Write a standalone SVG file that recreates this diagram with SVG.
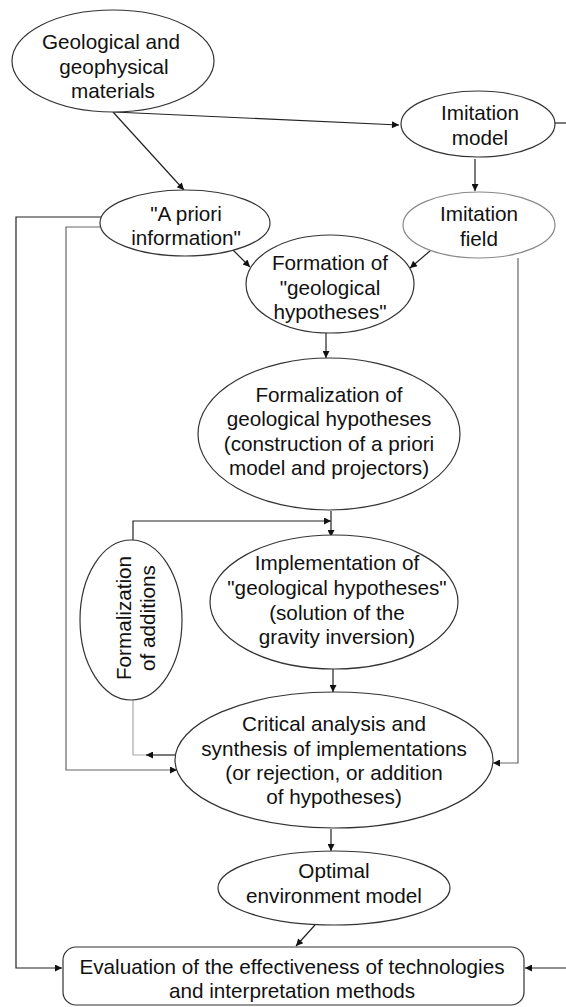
<svg xmlns="http://www.w3.org/2000/svg" width="566" height="1007" viewBox="0 0 566 1007">
<defs>
<marker id="ah" viewBox="0 0 10 10" refX="10" refY="5" markerWidth="9" markerHeight="7" markerUnits="userSpaceOnUse" orient="auto">
<path d="M0,0 L10,5 L0,10 z" fill="#111"/>
</marker>
<style>
.n{fill:#fff;stroke:#333;stroke-width:1.2}
.lt{stroke:#888}
.t{font-family:"Liberation Sans",Arial,sans-serif;font-size:20.7px;fill:#111;text-anchor:middle}
.c{fill:none;stroke:#222;stroke-width:1.2}
.g{stroke:#666}
.lg{stroke:#aaa}
</style>
</defs>
<rect width="566" height="1007" fill="#fff"/>
<g id="connectors">
<path class="c" d="M114,112 L399,125" marker-end="url(#ah)"/>
<path class="c" d="M113,112 L184,190" marker-end="url(#ah)"/>
<path class="c" d="M548,123 L566,123"/>
<path class="c" d="M475,159 L475,191" marker-end="url(#ah)"/>
<path class="c" d="M101,217 L16,217 L16,968 L62,968" marker-end="url(#ah)"/>
<path class="c g" d="M103,227 L66,227 L66,770 L177,770" marker-end="url(#ah)"/>
<path class="c" d="M232,249 L250,267" marker-end="url(#ah)"/>
<path class="c" d="M437,245 L410,268" marker-end="url(#ah)"/>
<path class="c" d="M326,333 L326,358" marker-end="url(#ah)"/>
<path class="c g" d="M518,258 L518,763 L493,763" marker-end="url(#ah)"/>
<path class="c" d="M133,540 L133,521 L331,521" marker-end="url(#ah)"/>
<path class="c" d="M331,511 L331,537" marker-end="url(#ah)"/>
<path class="c" d="M333,668 L333,692" marker-end="url(#ah)"/>
<path class="c" d="M178,755 L146,755" marker-end="url(#ah)"/>
<path class="c lg" d="M146,755 L133,755 L133,700"/>
<path class="c" d="M331,829 L331,851" marker-end="url(#ah)"/>
<path class="c" d="M315,925 L296,946" marker-end="url(#ah)"/>
<path class="c" d="M566,968 L525,968" marker-end="url(#ah)"/>
</g>
<g id="geo-materials">
<ellipse class="n" cx="113" cy="61" rx="101" ry="51"/>
<text class="t" x="111" y="49">Geological and</text>
<text class="t" x="114" y="74">geophysical</text>
<text class="t" x="113" y="98">materials</text>
</g>
<g id="imitation-model">
<ellipse class="n" cx="478" cy="124" rx="77" ry="33"/>
<text class="t" x="480" y="120">Imitation</text>
<text class="t" x="480" y="145">model</text>
</g>
<g id="imitation-field">
<ellipse class="n lt" cx="479" cy="225" rx="76" ry="33"/>
<text class="t" x="479" y="221">Imitation</text>
<text class="t" x="479" y="246">field</text>
</g>
<g id="a-priori">
<ellipse class="n" cx="185" cy="223" rx="85" ry="33"/>
<text class="t" x="186" y="221">"A priori</text>
<text class="t" x="186" y="245">information"</text>
</g>
<g id="formation">
<ellipse class="n" cx="330" cy="284" rx="84" ry="49"/>
<text class="t" x="330" y="270">Formation of</text>
<text class="t" x="330" y="295">"geological</text>
<text class="t" x="330" y="319">hypotheses"</text>
</g>
<g id="formalization">
<ellipse class="n" cx="329" cy="434" rx="131" ry="76"/>
<text class="t" x="329" y="402">Formalization of</text>
<text class="t" x="329" y="426">geological hypotheses</text>
<text class="t" x="329" y="451">(construction of a priori</text>
<text class="t" x="329" y="475">model and projectors)</text>
</g>
<g id="formalization-additions">
<ellipse class="n" cx="131" cy="620" rx="51" ry="80"/>
<text class="t" transform="translate(131,618) rotate(-90)">Formalization</text>
<text class="t" transform="translate(155,618) rotate(-90)">of additions</text>
</g>
<g id="implementation">
<ellipse class="n" cx="334" cy="602" rx="124" ry="67"/>
<text class="t" x="337" y="570">Implementation of</text>
<text class="t" x="337" y="595">"geological hypotheses"</text>
<text class="t" x="337" y="620">(solution of the</text>
<text class="t" x="337" y="644">gravity inversion)</text>
</g>
<g id="critical">
<ellipse class="n" cx="334" cy="760" rx="159" ry="68"/>
<text class="t" x="334" y="731">Critical analysis and</text>
<text class="t" x="334" y="756">synthesis of implementations</text>
<text class="t" x="334" y="780">(or rejection, or addition</text>
<text class="t" x="334" y="804">of hypotheses)</text>
</g>
<g id="optimal">
<ellipse class="n" cx="334" cy="888" rx="116" ry="37"/>
<text class="t" x="334" y="878">Optimal</text>
<text class="t" x="334" y="903">environment model</text>
</g>
<g id="evaluation">
<rect class="n" x="63" y="947" width="461" height="58" rx="13" ry="13"/>
<text class="t" x="292" y="974">Evaluation of the effectiveness of technologies</text>
<text class="t" x="292" y="998">and interpretation methods</text>
</g>
</svg>
